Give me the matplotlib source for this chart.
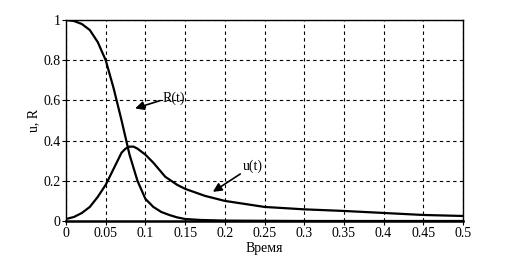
import matplotlib
matplotlib.use("Agg")
import matplotlib.pyplot as plt

# values
t_u = [0, 0.01, 0.02, 0.03, 0.04, 0.05, 0.06, 0.065, 0.07, 0.075, 0.08, 0.085, 0.09,
       0.095, 0.1, 0.11, 0.125, 0.14, 0.15, 0.175, 0.2, 0.25, 0.3, 0.35, 0.4, 0.45, 0.5]
u = [0.01, 0.02, 0.04, 0.07, 0.12, 0.18, 0.26, 0.3, 0.34, 0.36, 0.37, 0.37, 0.36,
     0.345, 0.33, 0.29, 0.22, 0.18, 0.16, 0.125, 0.10, 0.07, 0.058, 0.05, 0.04, 0.03, 0.025]

t_r = [0, 0.01, 0.02, 0.03, 0.04, 0.05, 0.06, 0.07, 0.08, 0.09, 0.1, 0.11, 0.12,
       0.13, 0.14, 0.15, 0.17, 0.2, 0.3, 0.5]
R = [1.0, 0.995, 0.98, 0.95, 0.89, 0.8, 0.66, 0.5, 0.33, 0.2, 0.11, 0.07, 0.045,
     0.03, 0.018, 0.01, 0.005, 0.002, 0.0, 0.0]

x_ticks = [0, 0.05, 0.1, 0.15, 0.2, 0.25, 0.3, 0.35, 0.4, 0.45, 0.5]
x_labels = ["0", "0.05", "0.1", "0.15", "0.2", "0.25", "0.3", "0.35", "0.4", "0.45", "0.5"]
y_ticks = [0, 0.2, 0.4, 0.6, 0.8, 1]
y_labels = ["0", "0.2", "0.4", "0.6", "0.8", "1"]

plt.rcParams["font.family"] = ["Liberation Serif", "DejaVu Serif"]

fig = plt.figure(figsize=(5.12, 2.56), dpi=100)
ax = fig.add_axes([66 / 512, 1 - 221 / 256, 397 / 512, 201 / 256])

ax.plot(t_r, R, color="black", linewidth=1.6)
ax.plot(t_u, u, color="black", linewidth=1.6)

ax.set_xlim(0, 0.5)
ax.set_ylim(0, 1)
ax.set_xticks(x_ticks)
ax.set_xticklabels(x_labels)
ax.set_yticks(y_ticks)
ax.set_yticklabels(y_labels)
ax.tick_params(labelsize=10, direction="out", length=3, width=0.8, pad=1)
ax.grid(True, color="black", linestyle=(0, (3, 3)), linewidth=0.8)
for s in ax.spines.values():
    s.set_linewidth(1.0)
ax.spines["bottom"].set_linewidth(1.8)

ax.set_xlabel("Время", fontsize=10, labelpad=2)
ax.set_ylabel("u, R", fontsize=10, labelpad=2)

ax.annotate("R(t)", xy=(0.087, 0.56), xytext=(0.122, 0.61), fontsize=10,
            va="center", ha="left",
            arrowprops=dict(arrowstyle="-|>", color="black", linewidth=1.2,
                            mutation_scale=13, shrinkA=0, shrinkB=0, relpos=(0, 0.4)))
ax.annotate("u(t)", xy=(0.185, 0.145), xytext=(0.223, 0.27), fontsize=10,
            va="center", ha="left",
            arrowprops=dict(arrowstyle="-|>", color="black", linewidth=1.2,
                            mutation_scale=13, shrinkA=0, shrinkB=0, relpos=(0, 0.1)))

fig.savefig("out.png", dpi=100)
